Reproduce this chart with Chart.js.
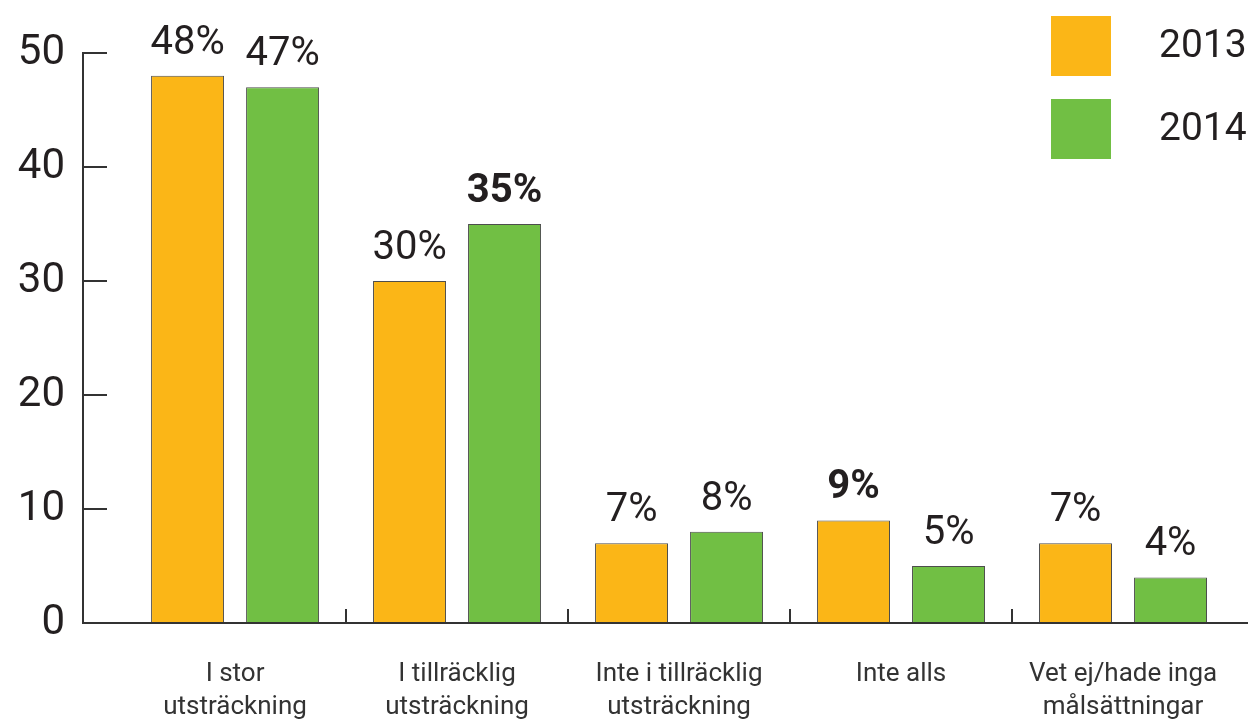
<!DOCTYPE html>
<html>
<head>
<meta charset="utf-8">
<script src="https://cdn.jsdelivr.net/npm/chart.js@4/dist/chart.umd.min.js"></script>
<style>
  html, body { margin: 0; padding: 0; background: #ffffff; }
  #wrap { width: 1248px; height: 720px; }
</style>
</head>
<body>
<div id="wrap"><canvas id="c" width="1248" height="720"></canvas></div>
<script>
// ---- data ----
const categories = [
  ['I stor', 'utsträckning'],
  ['I tillräcklig', 'utsträckning'],
  ['Inte i tillräcklig', 'utsträckning'],
  ['Inte alls'],
  ['Vet ej/hade inga', 'målsättningar']
];
const seriesNames = ['2013', '2014'];
const values2013 = [48, 30, 7, 9, 7];
const values2014 = [47, 35, 8, 5, 4];
const yTicks = [0, 10, 20, 30, 40, 50];

// ---- styling ----
const TEXT = '#231f20';
const AXIS = '#333333';
const ORANGE = '#FBB617';
const GREEN = '#71BF44';
const FONT = 'Roboto, "Liberation Sans", sans-serif';

const toPoints = arr => arr.map((v, i) => ({ x: i, y: v }));
const xTickValues = categories.map((_, i) => i);

const valueLabels = {
  id: 'valueLabels',
  afterDatasetsDraw(chart) {
    const ctx = chart.ctx;
    ctx.save();
    chart.data.datasets.forEach((ds, di) => {
      const meta = chart.getDatasetMeta(di);
      meta.data.forEach((bar, i) => {
        const v = ds.data[i].y;
        const w = ds.labelWeights ? ds.labelWeights[i] : 400;
        ctx.font = `${w} 40px ${FONT}`;
        ctx.fillStyle = TEXT;
        ctx.textAlign = 'center';
        ctx.textBaseline = 'alphabetic';
        ctx.fillText(v + '%', bar.x, bar.y - 22);
      });
    });
    ctx.restore();
  }
};

const boxLegend = {
  id: 'boxLegend',
  afterDraw(chart, args, opts) {
    const ctx = chart.ctx;
    ctx.save();
    chart.data.datasets.forEach((ds, i) => {
      const top = opts.top + i * opts.step;
      ctx.fillStyle = ds.backgroundColor;
      ctx.fillRect(opts.left, top, opts.box, opts.box);
      ctx.font = `400 39px ${FONT}`;
      ctx.fillStyle = TEXT;
      ctx.textAlign = 'left';
      ctx.textBaseline = 'middle';
      ctx.fillText(ds.label, opts.textLeft, top + opts.box / 2 + 1);
    });
    ctx.restore();
  }
};

new Chart(document.getElementById('c'), {
  type: 'bar',
  data: {
    datasets: [
      {
        label: seriesNames[0],
        data: toPoints(values2013),
        backgroundColor: ORANGE,
        borderColor: '#4d4d4d',
        borderWidth: 1,
        labelWeights: [400, 400, 400, 700, 400]
      },
      {
        label: seriesNames[1],
        data: toPoints(values2014),
        backgroundColor: GREEN,
        borderColor: '#4d4d4d',
        borderWidth: 1,
        labelWeights: [400, 700, 400, 400, 400]
      }
    ]
  },
  options: {
    responsive: false,
    animation: false,
    devicePixelRatio: 1,
    categoryPercentage: 0.856,
    barPercentage: 0.768,
    layout: { padding: { top: 53, left: 0, right: 0, bottom: 0 } },
    plugins: {
      legend: { display: false },
      tooltip: { enabled: false },
      boxLegend: { left: 1051, top: 16, step: 83, box: 60, textLeft: 1159 }
    },
    scales: {
      x: {
        type: 'linear',
        offset: false,
        min: -0.685,
        max: 4.563,
        afterBuildTicks: s => { s.ticks = xTickValues.map(v => ({ value: v })); },
        afterFit: s => { s.height = 97; s.paddingLeft = 0; s.paddingRight = 0; },
        ticks: {
          autoSkip: false,
          maxRotation: 0,
          minRotation: 0,
          padding: 49,
          color: '#333333',
          font: { family: FONT, size: 26, lineHeight: 1.27 },
          callback: v => categories[Math.round(v)]
        },
        grid: {
          offset: true,
          drawOnChartArea: false,
          drawTicks: true,
          tickLength: -14,
          lineWidth: 2,
          color: ctx => (ctx.type === 'tick' && ctx.index > 0) ? AXIS : 'rgba(0,0,0,0)'
        },
        border: { color: AXIS, width: 2 }
      },
      y: {
        min: 0,
        max: 50,
        afterBuildTicks: s => { s.ticks = yTicks.map(v => ({ value: v })); },
        afterFit: s => { s.width = 83; s.paddingTop = 0; s.paddingBottom = 0; },
        ticks: {
          padding: 42,
          color: TEXT,
          font: { family: FONT, size: 42, weight: 400 }
        },
        grid: {
          drawOnChartArea: false,
          drawTicks: true,
          tickLength: -24,
          lineWidth: 2,
          color: AXIS
        },
        border: { color: AXIS, width: 2 }
      }
    }
  },
  plugins: [valueLabels, boxLegend]
});
</script>
</body>
</html>
